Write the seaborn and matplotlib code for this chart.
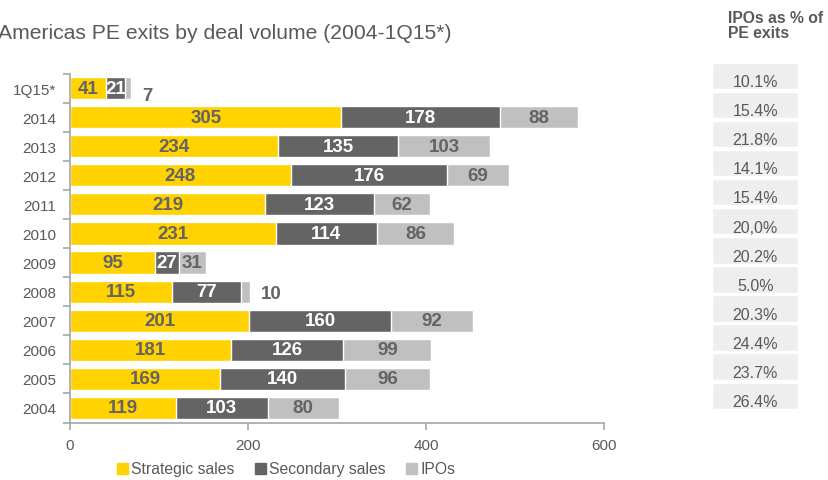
import numpy as np
import pandas as pd
import seaborn as sns
import matplotlib.pyplot as plt
from matplotlib.patches import Patch
from matplotlib.ticker import FixedLocator

categorias = ['1Q15*', '2014', '2013', '2012', '2011', '2010', '2009',
              '2008', '2007', '2006', '2005', '2004']
estrategicas = [41, 305, 234, 248, 219, 231, 95, 115, 201, 181, 169, 119]
secundarias = [21, 178, 135, 176, 123, 114, 27, 77, 160, 126, 140, 103]
ipos = [7, 88, 103, 69, 62, 86, 31, 10, 92, 99, 96, 80]
percentual_ipos = ['10.1%', '15.4%', '21.8%', '14.1%', '15.4%', '20,0%',
                   '20.2%', '5.0%', '20.3%', '24.4%', '23.7%', '26.4%']

AMARELO = '#FFD200'
CINZA_ESCURO = '#646464'
CINZA_CLARO = '#C0C0C0'
TEXTO = '#595959'

sns.set_style('white')
plt.rcParams['font.family'] = ['Liberation Sans', 'DejaVu Sans']

dados = pd.DataFrame({'ano': categorias,
                      'estrategicas': estrategicas,
                      'secundarias': secundarias,
                      'ipos': ipos})
dados['ate_secundarias'] = dados.estrategicas + dados.secundarias
dados['total'] = dados.ate_secundarias + dados.ipos

fig = plt.figure(figsize=(8.29, 4.81), dpi=100)
ax = fig.add_axes([70 / 829, 1 - 423.5 / 481, 534 / 829, 349 / 481])

# barras empilhadas: desenha do total para o menor
for coluna, cor in [('total', CINZA_CLARO), ('ate_secundarias', CINZA_ESCURO),
                    ('estrategicas', AMARELO)]:
    sns.barplot(data=dados, x=coluna, y='ano', order=categorias, orient='h',
                color=cor, saturation=1, width=0.76, ax=ax)

for i, linha in dados.iterrows():
    s, sec, ip = linha.estrategicas, linha.secundarias, linha.ipos
    ax.text(s / 2, i, str(s), ha='center', va='center', fontsize=13.5,
            fontweight='bold', color=CINZA_ESCURO)
    ax.text(s + sec / 2, i, str(sec), ha='center', va='center', fontsize=13.5,
            fontweight='bold', color='white')
    if ip < 20:
        desloc = 0.25 if i == 0 else 0.05
        ax.text(linha.total + 12, i + desloc, str(ip), ha='left', va='center',
                fontsize=13.5, fontweight='bold', color=CINZA_ESCURO)
    else:
        ax.text(linha.ate_secundarias + ip / 2, i, str(ip), ha='center',
                va='center', fontsize=13.5, fontweight='bold',
                color=CINZA_ESCURO)

ax.set_xlim(0, 600)
ax.set_ylim(len(categorias) - 0.5, -0.5)
ax.set_xticks([0, 200, 400, 600])
ax.set_xlabel('')
ax.set_ylabel('')
for lado in ['top', 'right']:
    ax.spines[lado].set_visible(False)
for lado in ['left', 'bottom']:
    ax.spines[lado].set_color('#A6A6A6')
    ax.spines[lado].set_linewidth(1.2)
ax.yaxis.set_minor_locator(FixedLocator(np.arange(-0.5, len(categorias), 1)))
ax.tick_params(axis='y', which='major', length=0, pad=10, labelsize=11,
               labelcolor=TEXTO)
ax.tick_params(axis='y', which='minor', left=True, length=5, width=1.2,
               color='#A6A6A6')
ax.tick_params(axis='x', which='major', bottom=True, length=5, width=1.2,
               color='#A6A6A6', pad=6, labelsize=11, labelcolor=TEXTO)

fig.text(-0.002, 0.931, 'Americas PE exits by deal volume (2004-1Q15*)',
         ha='left', va='center', fontsize=15.2, color=TEXTO)

# tabela lateral com o percentual de IPOs
ax2 = fig.add_axes([712.5 / 829, 1 - 423.5 / 481, 85.5 / 829, 349 / 481])
posicoes = np.arange(len(categorias))
caixas = ax2.barh(posicoes - 0.42, [1] * len(categorias), height=0.91, left=0,
                  color='#EEEEEE')
for c in caixas:
    c.set_clip_on(False)
for i, txt in enumerate(percentual_ipos):
    ax2.text(0.5, i - 0.22, txt, ha='center', va='center', fontsize=11.5,
             color=TEXTO)
ax2.set_xlim(0, 1)
ax2.set_ylim(len(categorias) - 0.5, -0.5)
ax2.axis('off')

fig.text(728 / 829, 1 - 26 / 481, 'IPOs as % of\nPE exits', ha='left',
         va='center', fontsize=11.3, fontweight='bold', color=TEXTO,
         linespacing=0.95)

legenda = [Patch(color=AMARELO, label='Strategic sales'),
           Patch(color=CINZA_ESCURO, label='Secondary sales'),
           Patch(color=CINZA_CLARO, label='IPOs')]
leg = fig.legend(handles=legenda, loc='center', ncol=3, frameon=False,
                 bbox_to_anchor=(286 / 829, 1 - 470 / 481), fontsize=11.3,
                 handlelength=0.7, handleheight=0.7, handletextpad=0.2,
                 columnspacing=1.3)
for t in leg.get_texts():
    t.set_color(TEXTO)

plt.savefig('out.png', dpi=100)
